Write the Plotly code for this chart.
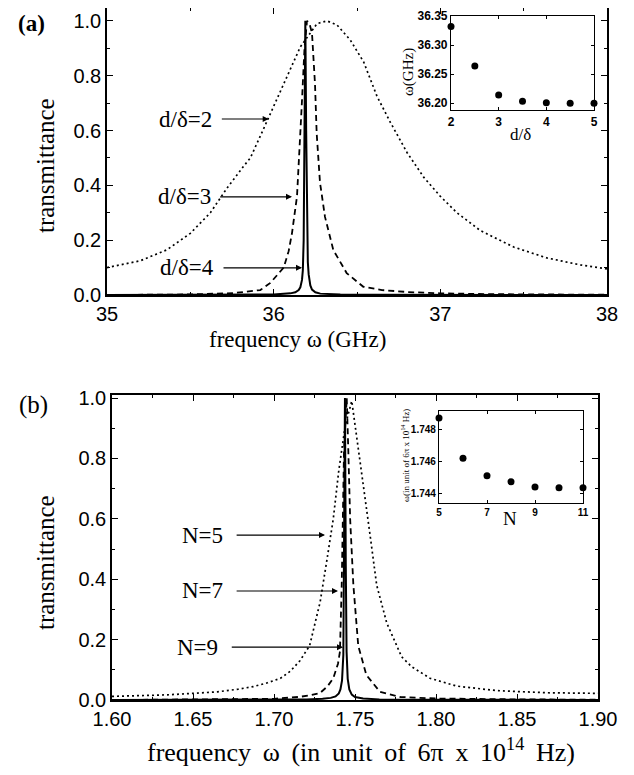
import plotly.graph_objects as go

# ---- panel (a): transmittance vs frequency (GHz) ----
a_x_d2 = [35.0, 35.2, 35.36, 35.5, 35.62, 35.72, 35.82, 35.86, 35.92, 35.98, 36.06, 36.16, 36.26,
          36.32, 36.38, 36.46, 36.54, 36.62, 36.7, 36.8, 36.9, 37.0, 37.1, 37.24, 37.44, 37.64, 37.84, 38.0]
a_y_d2 = [0.10, 0.125, 0.165, 0.225, 0.30, 0.39, 0.47, 0.50, 0.58, 0.66, 0.77, 0.905, 0.99,
          1.0, 0.985, 0.93, 0.85, 0.725, 0.63, 0.52, 0.43, 0.36, 0.30, 0.235, 0.175, 0.135, 0.11, 0.095]

a_x_d3 = [35.0, 35.3, 35.5, 35.76, 35.92, 35.98, 36.02, 36.06, 36.09, 36.11, 36.14, 36.16, 36.17, 36.185,
          36.2, 36.215, 36.23, 36.248, 36.258, 36.278, 36.308, 36.358, 36.438, 36.538, 36.65, 36.8, 37.0,
          37.3, 37.6, 38.0]
a_y_d3 = [0.0, 0.001, 0.002, 0.007, 0.018, 0.044, 0.07, 0.10, 0.16, 0.226, 0.36, 0.57, 0.71, 0.9,
          1.0, 0.99, 0.955, 0.77, 0.59, 0.41, 0.285, 0.164, 0.08, 0.03, 0.018, 0.011, 0.006,
          0.003, 0.002, 0.001]

a_x_d4 = [35.0, 35.8, 36.0, 36.1, 36.13, 36.15, 36.16, 36.17, 36.175, 36.18, 36.185, 36.19, 36.195,
          36.2, 36.205, 36.21, 36.22, 36.23, 36.25, 36.28, 36.4, 36.6, 37.0, 38.0]
a_y_d4 = [0.0, 0.001, 0.002, 0.006, 0.01, 0.018, 0.028, 0.055, 0.09, 0.2, 0.55, 1.0, 0.6,
          0.25, 0.12, 0.075, 0.035, 0.02, 0.01, 0.005, 0.002, 0.001, 0.0, 0.0]

# inset (a): peak frequency vs d/delta
ins_a_ratio = [2, 2.5, 3, 3.5, 4, 4.5, 5]
ins_a_freq = [36.332, 36.264, 36.214, 36.203, 36.2005, 36.1998, 36.1995]

# ---- panel (b): transmittance vs frequency (6pi x 1e14 Hz) ----
b_x_n5 = [1.60, 1.62, 1.634, 1.65, 1.665, 1.678, 1.687, 1.696, 1.704, 1.71, 1.716, 1.722, 1.7245,
          1.7285, 1.7325, 1.7366, 1.74, 1.744, 1.748, 1.751, 1.7551, 1.7593, 1.7634, 1.7696, 1.7737,
          1.7788, 1.785, 1.7963, 1.8128, 1.8375, 1.8683, 1.90]
b_y_n5 = [0.012, 0.015, 0.017, 0.022, 0.027, 0.036, 0.044, 0.057, 0.072, 0.095, 0.13, 0.18, 0.235,
          0.325, 0.458, 0.60, 0.76, 0.91, 0.99, 0.877, 0.712, 0.546, 0.38, 0.255, 0.204,
          0.143, 0.11, 0.072, 0.046, 0.031, 0.024, 0.022]

b_x_n7 = [1.60, 1.68, 1.70, 1.715, 1.722, 1.7284, 1.733, 1.7366, 1.7395, 1.7407, 1.7418, 1.7432, 1.7449,
          1.7459, 1.747, 1.749, 1.752, 1.757, 1.7654, 1.778, 1.80, 1.85, 1.90]
b_y_n7 = [0.0, 0.002, 0.004, 0.01, 0.015, 0.023, 0.045, 0.072, 0.12, 0.16, 0.38, 0.82, 1.0,
          0.82, 0.60, 0.38, 0.18, 0.083, 0.027, 0.01, 0.005, 0.002, 0.001]

b_x_n9 = [1.60, 1.70, 1.72, 1.73, 1.735, 1.738, 1.740, 1.741, 1.742, 1.7428, 1.7433, 1.7438, 1.7443,
          1.7448, 1.7455, 1.7465, 1.748, 1.75, 1.755, 1.765, 1.80, 1.90]
b_y_n9 = [0.0, 0.001, 0.002, 0.004, 0.007, 0.012, 0.022, 0.035, 0.065, 0.15, 0.45, 1.0, 0.45,
          0.16, 0.07, 0.035, 0.018, 0.01, 0.005, 0.002, 0.001, 0.0]

# inset (b): peak frequency vs N
ins_b_n = [5, 6, 7, 8, 9, 10, 11]
ins_b_freq = [1.74876, 1.7462, 1.7451, 1.74471, 1.74439, 1.74433, 1.74433]

# curve labels: (text, tail x, head x, y)
a_labels = [("d/δ=2", 35.68, 35.97, 0.642), ("d/δ=3", 35.67, 36.11, 0.358), ("d/δ=4", 35.69, 36.17, 0.099)]
b_labels = [("N=5", 1.676, 1.7315, 0.546), ("N=7", 1.676, 1.7395, 0.361), ("N=9", 1.673, 1.7426, 0.175)]

SERIF = "Liberation Serif, Times New Roman, serif"
SANS = "Liberation Sans, Arial, sans-serif"
PAGE_OFF = 8  # default body margin of the html page
W, H = 634 - PAGE_OFF, 775 - PAGE_OFF
DOT = "2px,3px"
DASH = "6px,4px"


def px_x(p):
    return (p - PAGE_OFF) / W


def px_y(p):
    return 1 - (p - PAGE_OFF) / H


fig = go.Figure()

fig.add_trace(go.Scatter(x=a_x_d2, y=a_y_d2, mode="lines", line=dict(color="black", width=1.7, dash=DOT),
                         xaxis="x", yaxis="y"))
fig.add_trace(go.Scatter(x=a_x_d3, y=a_y_d3, mode="lines", line=dict(color="black", width=1.8, dash=DASH),
                         xaxis="x", yaxis="y"))
fig.add_trace(go.Scatter(x=a_x_d4, y=a_y_d4, mode="lines", line=dict(color="black", width=2),
                         xaxis="x", yaxis="y"))
fig.add_trace(go.Scatter(x=ins_a_ratio, y=ins_a_freq, mode="markers", marker=dict(color="black", size=7),
                         cliponaxis=False, xaxis="x2", yaxis="y2"))

fig.add_trace(go.Scatter(x=b_x_n5, y=b_y_n5, mode="lines", line=dict(color="black", width=1.7, dash=DOT),
                         xaxis="x3", yaxis="y3"))
fig.add_trace(go.Scatter(x=b_x_n7, y=b_y_n7, mode="lines", line=dict(color="black", width=1.8, dash=DASH),
                         xaxis="x3", yaxis="y3"))
fig.add_trace(go.Scatter(x=b_x_n9, y=b_y_n9, mode="lines", line=dict(color="black", width=2),
                         xaxis="x3", yaxis="y3"))
fig.add_trace(go.Scatter(x=ins_b_n, y=ins_b_freq, mode="markers", marker=dict(color="black", size=7),
                         cliponaxis=False, xaxis="x4", yaxis="y4"))


def main_axis(domain, rng, tickvals, ticktext, minor_dtick, anchor):
    return dict(domain=domain, range=rng, tickvals=tickvals, ticktext=ticktext, ticks="inside", ticklen=6,
                tickwidth=1.3, tickcolor="black", mirror="ticks", showline=True, linecolor="black",
                linewidth=1.6, showgrid=False, zeroline=False, anchor=anchor, automargin=False,
                tickfont=dict(family=SANS, size=20, color="black"),
                minor=dict(dtick=minor_dtick, ticks="inside", ticklen=3, tickcolor="black", showgrid=False))


def inset_axis(domain, rng, tickvals, ticktext, anchor, size):
    return dict(domain=domain, range=rng, tickvals=tickvals, ticktext=ticktext, ticks="inside", ticklen=3,
                tickwidth=1, tickcolor="black", mirror="ticks", showline=True, linecolor="black",
                linewidth=1.2, showgrid=False, zeroline=False, anchor=anchor, automargin=False,
                tickfont=dict(family=SANS, size=size, color="black", weight="bold"))


y_ticks = [0, 0.2, 0.4, 0.6, 0.8, 1.0]
y_text = ["0.0", "0.2", "0.4", "0.6", "0.8", "1.0"]

fig.update_layout(
    template="none",
    width=W, height=H, margin=dict(l=0, r=0, t=0, b=0, autoexpand=False),
    paper_bgcolor="white", plot_bgcolor="white", showlegend=False,
    xaxis=main_axis([px_x(107), px_x(607)], [35, 38], [35, 36, 37, 38], ["35", "36", "37", "38"], 0.5, "y"),
    yaxis=main_axis([px_y(295), px_y(8)], [0, 1.047], y_ticks, y_text, 0.1, "x"),
    xaxis2=inset_axis([px_x(451), px_x(594)], [2, 5], [2, 3, 4, 5], ["2", "3", "4", "5"], "y2", 12),
    yaxis2=inset_axis([px_y(110), px_y(16)], [36.188, 36.35], [36.20, 36.25, 36.30, 36.35],
                      ["36.20", "36.25", "36.30", "36.35"], "x2", 12),
    xaxis3=main_axis([px_x(112), px_x(598)], [1.60, 1.90], [1.60, 1.65, 1.70, 1.75, 1.80, 1.85, 1.90],
                     ["1.60", "1.65", "1.70", "1.75", "1.80", "1.85", "1.90"], 0.025, "y3"),
    yaxis3=main_axis([px_y(700), px_y(395)], [0, 1.01], y_ticks, y_text, 0.1, "x3"),
    xaxis4=inset_axis([px_x(439), px_x(583)], [5, 11], [5, 7, 9, 11], ["5", "7", "9", "11"], "y4", 10),
    yaxis4=inset_axis([px_y(503), px_y(411)], [1.74337, 1.7492], [1.744, 1.746, 1.748],
                      ["1.744", "1.746", "1.748"], "x4", 10),
)


def paper_text(txt, x, y, size, angle=0):
    return dict(text=txt, x=px_x(x), y=px_y(y), xref="paper", yref="paper", xanchor="center",
                yanchor="middle", textangle=angle, showarrow=False,
                font=dict(family=SERIF, size=size, color="black"))


ann = []
# panel letters
ann.append(paper_text("<b>(a)</b>", 31, 23, 23))
ann.append(paper_text("(b)", 33, 405, 25))
# axis titles
ann.append(paper_text("transmittance", 45, 166, 25, -90))
ann.append(paper_text("transmittance", 45, 563, 25, -90))
ann.append(paper_text("frequency ω (GHz)", 297, 339, 23))
sp = " &#8201;"
ann.append(paper_text(sp.join(["frequency", "ω", "(in", "unit", "of", "6π", "x", "10<sup>14</sup>", "Hz)"]),
                      361, 750, 26))
# inset titles
ann.append(paper_text("ω(GHz)", 408, 72, 15, -90))
ann.append(paper_text("d/δ", 520, 134, 17))
ann.append(paper_text("ω(in unit of 6π x 10<sup>14</sup> Hz)", 405, 456, 9, -90))
ann.append(paper_text("N", 510, 518, 19))

for (txt, x0, x1, yv), (xr, yr), gap in ([(l, ("x", "y"), -6) for l in a_labels]
                                         + [(l, ("x3", "y3"), -10) for l in b_labels]):
    ann.append(dict(x=x1, y=yv, ax=x0, ay=yv, xref=xr, yref=yr, axref=xr, ayref=yr, text="",
                    showarrow=True, arrowhead=2, arrowsize=1, arrowwidth=1.2, arrowcolor="black"))
    ann.append(dict(x=x0, y=yv, xref=xr, yref=yr, text=txt, xanchor="right", yanchor="middle", xshift=gap,
                    showarrow=False, font=dict(family=SERIF, size=23, color="black")))

fig.update_layout(annotations=ann)
fig.write_html("out.html")
